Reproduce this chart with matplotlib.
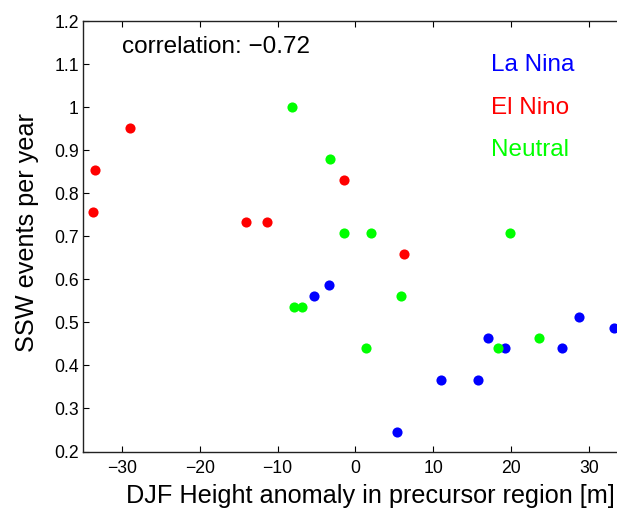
#!/usr/bin/env python3

import matplotlib.pyplot as plt

plt.rcParams['font.family'] = ['Liberation Sans', 'DejaVu Sans']

# DJF height anomaly [m] vs SSW events per year, by ENSO phase
laNinaX = [-5.3, -3.4, 5.3, 11.0, 15.8, 17.1, 19.2, 26.6, 28.8, 33.3]
laNinaY = [0.561, 0.586, 0.245, 0.367, 0.367, 0.464, 0.44, 0.44, 0.512, 0.488]

elNinoX = [-33.5, -33.7, -28.9, -14.1, -11.3, -1.4, 6.3]
elNinoY = [0.854, 0.756, 0.951, 0.732, 0.732, 0.83, 0.659]

neutralX = [-8.1, -3.2, -1.4, 2.0, 19.9, -7.9, -6.9, 5.9, 1.4, 18.3, 23.6]
neutralY = [1.0, 0.879, 0.708, 0.708, 0.708, 0.536, 0.536, 0.561, 0.44, 0.44, 0.464]

xTicks = [-30, -20, -10, 0, 10, 20, 30]
yTicks = [0.2, 0.3, 0.4, 0.5, 0.6, 0.7, 0.8, 0.9, 1.0, 1.1, 1.2]
yTickLabels = ['0.2', '0.3', '0.4', '0.5', '0.6', '0.7', '0.8', '0.9', '1', '1.1', '1.2']

correlation = -0.72


def plot(fileName):
    W, H = 617, 512
    fig = plt.figure(figsize=(W / 100, H / 100), dpi=100)
    # axes run a bit past the right edge of the figure, like the original crop
    left, right, top, bottom = 83, 627.6, 21, 451.5
    ax = fig.add_axes([left / W, (H - bottom) / H, (right - left) / W, (bottom - top) / H])

    ax.plot(laNinaX, laNinaY, 'o', color=(0, 0, 1), ms=7.3, mec='none')
    ax.plot(elNinoX, elNinoY, 'o', color=(1, 0, 0), ms=7.3, mec='none')
    ax.plot(neutralX, neutralY, 'o', color=(0, 1, 0), ms=7.3, mec='none')

    ax.set_xlim(-35, 35)
    ax.set_ylim(0.2, 1.2)
    ax.set_xticks(xTicks)
    ax.set_xticklabels(['\u2212%d' % -t if t < 0 else '%d' % t for t in xTicks])
    ax.set_yticks(yTicks)
    ax.set_yticklabels(yTickLabels)
    ax.tick_params(direction='in', length=4, width=0.8, labelsize=12.7,
                   top=True, right=True, colors='k')
    ax.tick_params(axis='x', pad=6)
    ax.tick_params(axis='y', pad=3)
    for s in ax.spines.values():
        s.set_linewidth(1.0)
        s.set_color('#222222')

    ax.text(-30, 1.14, 'correlation: \u22120.72' if correlation < 0 else 'correlation: %.2f' % correlation,
            fontsize=17.5, ha='left', va='center')
    ax.text(17.5, 1.098, 'La Nina', color=(0, 0, 1), fontsize=17.5, va='center')
    ax.text(17.5, 0.997, 'El Nino', color=(1, 0, 0), fontsize=17.5, va='center')
    ax.text(17.5, 0.900, 'Neutral', color=(0, 1, 0), fontsize=17.5, va='center')

    fig.text(370 / W, 1 - 496 / H, 'DJF Height anomaly in precursor region [m]',
             fontsize=18.2, ha='center', va='center')
    fig.text(27 / W, 1 - 233 / H, 'SSW events per year', fontsize=18.2,
             rotation=90, ha='center', va='center')

    fig.savefig(fileName, dpi=100)


if __name__ == '__main__':
    plot('out.png')
